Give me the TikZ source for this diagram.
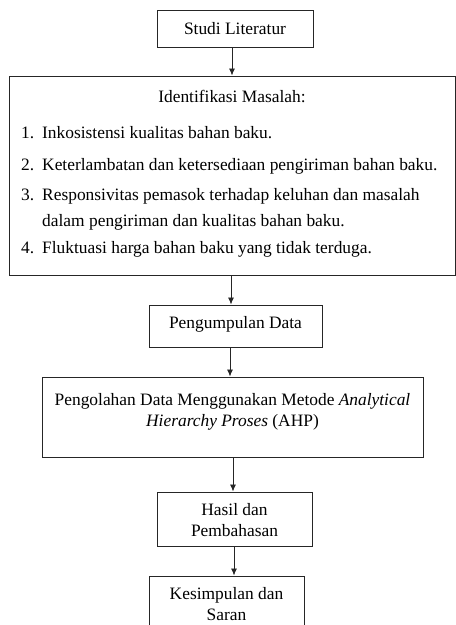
\documentclass[tikz,border=0pt]{standalone}
\usepackage{fontspec}
\setmainfont{Liberation Serif}
\usetikzlibrary{arrows.meta}
\begin{document}
\begin{tikzpicture}[x=1pt,y=-1pt,
  box/.style={draw=black!85,line width=1pt,inner sep=0pt,align=center},
  txt/.style={inner sep=0pt,font=\fontsize{17.4}{21.5}\selectfont},
  arr/.style={draw=black!85,line width=0.8pt,-{Latex[length=7pt,width=6pt]}}]
\clip (0,0) rectangle (456,625);
\useasboundingbox (0,0) rectangle (456,625);
\node[box,minimum width=156,minimum height=37] (studi) at (235,28.5) {};
\node[txt] (tstudi) at (235,28.5) {Studi Literatur};
\node[box,minimum width=446,minimum height=199] (ident) at (232,175.5) {};
\node[txt] (tident) at (232,96) {Identifikasi Masalah:};
\node[txt,anchor=base west] (n1) at (21,138) {1.};
\node[txt,anchor=base west] (i1) at (42,138) {Inkosistensi kualitas bahan baku.};
\node[txt,anchor=base west] (n2) at (21,170) {2.};
\node[txt,anchor=base west] (i2) at (42,170) {Keterlambatan dan ketersediaan pengiriman bahan baku.};
\node[txt,anchor=base west] (n3) at (21,200) {3.};
\node[txt,anchor=base west] (i3) at (42,200) {Responsivitas pemasok terhadap keluhan dan masalah};
\node[txt,anchor=base west] (i3b) at (42,226) {dalam pengiriman dan kualitas bahan baku.};
\node[txt,anchor=base west] (n4) at (21,253) {4.};
\node[txt,anchor=base west] (i4) at (42,253) {Fluktuasi harga bahan baku yang tidak terduga.};
\node[box,minimum width=173,minimum height=42] (kump) at (235.5,326) {};
\node[txt] (tkump) at (235.5,324) {Pengumpulan Data};
\node[box,minimum width=381,minimum height=80] (olah) at (232.5,417) {};
\node[txt,align=center] (tolah) at (232.5,412) {Pengolahan Data Menggunakan Metode \textit{Analytical}\\\textit{Hierarchy Proses} (AHP)};
\node[box,minimum width=155,minimum height=54] (hasil) at (234.5,519) {};
\node[txt,align=center] (thasil) at (234.5,520) {Hasil dan\\Pembahasan};
\node[box,minimum width=155,minimum height=70] (simp) at (226.5,611) {};
\node[txt,align=center] (tsimp) at (226.5,604) {Kesimpulan dan\\Saran};
\draw[arr] (232,0 |- studi.south) coordinate (a1) -- (a1 |- ident.north);
\draw[arr] (231,0 |- ident.south) coordinate (a2) -- (a2 |- kump.north);
\draw[arr] (230,0 |- kump.south) coordinate (a3) -- (a3 |- olah.north);
\draw[arr] (233,0 |- olah.south) coordinate (a4) -- (a4 |- hasil.north);
\draw[arr] (234,0 |- hasil.south) coordinate (a5) -- (a5 |- simp.north);
\end{tikzpicture}
\end{document}
